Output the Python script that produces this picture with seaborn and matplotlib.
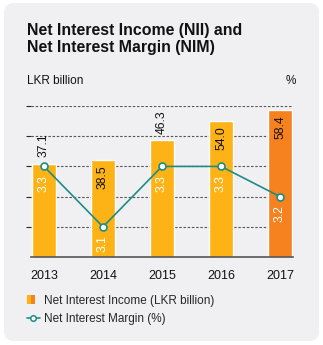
import numpy as np
import matplotlib
matplotlib.use("Agg")
import matplotlib.pyplot as plt
from matplotlib.patches import FancyBboxPatch, Rectangle
from matplotlib.lines import Line2D
from matplotlib.transforms import IdentityTransform
import seaborn as sns

# Data
years = ["2013", "2014", "2015", "2016", "2017"]
nii = [37.1, 38.5, 46.3, 54.0, 58.4]          # LKR billion
nim = [3.3, 3.1, 3.3, 3.3, 3.2]               # %
nii_label_pos = ["above", "inside", "above", "inside", "inside"]

# Styling
YELLOW = "#FDB316"
ORANGE = "#F5821F"
TEAL = "#1D8C86"
CARD = "#F0F0F2"
GRID = "#555555"
bar_colors = [YELLOW, YELLOW, YELLOW, YELLOW, ORANGE]

sns.set_style("white")
plt.rcParams["font.family"] = ["Liberation Sans", "DejaVu Sans"]

W, H = 323, 345
fig = plt.figure(figsize=(W / 100, H / 100), dpi=100)
fig.patch.set_facecolor("white")

# rounded card background
card = FancyBboxPatch((4, 4), 315, 338, boxstyle="round,pad=0,rounding_size=10",
                      transform=IdentityTransform(), facecolor=CARD,
                      edgecolor="none", zorder=0)
fig.add_artist(card)


def px(x, y):
    return x / W, 1 - y / H


left, right, top, bottom = 31, 293, 106, 257
ax = fig.add_axes([left / W, 1 - bottom / H, (right - left) / W, (bottom - top) / H])
ax.patch.set_visible(False)

sns.barplot(x=years, y=nii, hue=years, palette=bar_colors, legend=False,
            width=0.41, saturation=1, ax=ax)
for p in ax.patches:
    p.set_zorder(3)
ax.set_xlim(-0.22, 4.22)
ax.set_ylim(0, 60)
ax.set_yticks([12, 24, 36, 48, 60])
ax.yaxis.grid(True, linestyle=(0, (2.2, 1.6)), color=GRID, linewidth=0.8, zorder=1)
ax.set_axisbelow(True)
ax.tick_params(axis="y", left=False, labelleft=False)
ax.tick_params(axis="x", bottom=False, labelsize=9, pad=6, colors="#111111")
for s in ["top", "left", "right"]:
    ax.spines[s].set_visible(False)
ax.spines["bottom"].set_color("#555555")
ax.spines["bottom"].set_linewidth(1.2)
ax.spines["bottom"].set_zorder(4)
ax.set_xlabel("")
ax.set_ylabel("")

for i, (v, pos) in enumerate(zip(nii, nii_label_pos)):
    if pos == "above":
        ax.annotate(f"{v:.1f}", (i, v), xytext=(0, 5), textcoords="offset points",
                    rotation=90, ha="center", va="bottom", fontsize=8.7,
                    color="#111111", zorder=5)
    else:
        ax.annotate(f"{v:.1f}", (i, v), xytext=(0, -3.5), textcoords="offset points",
                    rotation=90, ha="center", va="top", fontsize=8.7,
                    color="#111111", zorder=5)

ax2 = ax.twinx()
ax2.patch.set_visible(False)
sns.lineplot(x=np.arange(len(years)), y=nim, ax=ax2, color=TEAL, linewidth=1.2,
             marker="o", markersize=5, markerfacecolor="white",
             markeredgecolor=TEAL, markeredgewidth=1.2, zorder=5)
ax2.set_ylim(3.0, 3.5)
ax2.set_xlim(-0.22, 4.22)
ax2.set_yticks([])
ax2.set_ylabel("")
for s in ["top", "left", "right", "bottom"]:
    ax2.spines[s].set_visible(False)
for i, v in enumerate(nim):
    ax2.annotate(f"{v:.1f}", (i, v), xytext=(0, -6), textcoords="offset points",
                 rotation=90, ha="center", va="top", fontsize=8.7, color="white")

# Titles and axis captions
fig.text(*px(27, 23), "Net Interest Income (NII) and\nNet Interest Margin (NIM)",
         fontsize=11.4, fontweight="bold", color="#111111", va="top", ha="left",
         linespacing=1.2)
fig.text(*px(27, 81), "LKR billion", fontsize=8.5, color="#111111", va="center", ha="left")
fig.text(*px(291, 81), "%", fontsize=8.5, color="#111111", va="center", ha="center")


# Legend: a small two-tone square for the bars, a marker line for the margin
class SplitSquare:
    pass


class SplitSquareHandler:
    def legend_artist(self, legend, orig_handle, fontsize, handlebox):
        x0, y0 = handlebox.xdescent, handlebox.ydescent
        h = handlebox.height * 1.05
        w = h * 0.9
        y0 = y0 - handlebox.height * 0.05
        a = Rectangle((x0, y0), w / 2, h, facecolor=YELLOW, edgecolor="none",
                      transform=handlebox.get_transform())
        b = Rectangle((x0 + w / 2, y0), w / 2, h, facecolor=ORANGE, edgecolor="none",
                      transform=handlebox.get_transform())
        handlebox.add_artist(a)
        handlebox.add_artist(b)
        return a


handles = [SplitSquare(),
           Line2D([], [], color=TEAL, linewidth=1.2, marker="o", markersize=4,
                  markerfacecolor="white", markeredgecolor=TEAL, markeredgewidth=1.1)]
labels = ["Net Interest Income (LKR billion)", "Net Interest Margin (%)"]
fig.legend(handles, labels, loc="upper left", bbox_to_anchor=px(16, 284),
           frameon=False, fontsize=8.5, handlelength=1.15, handleheight=0.75,
           handletextpad=0.3, labelspacing=0.55,
           handler_map={SplitSquare: SplitSquareHandler()})

fig.savefig("out.png", dpi=100)
